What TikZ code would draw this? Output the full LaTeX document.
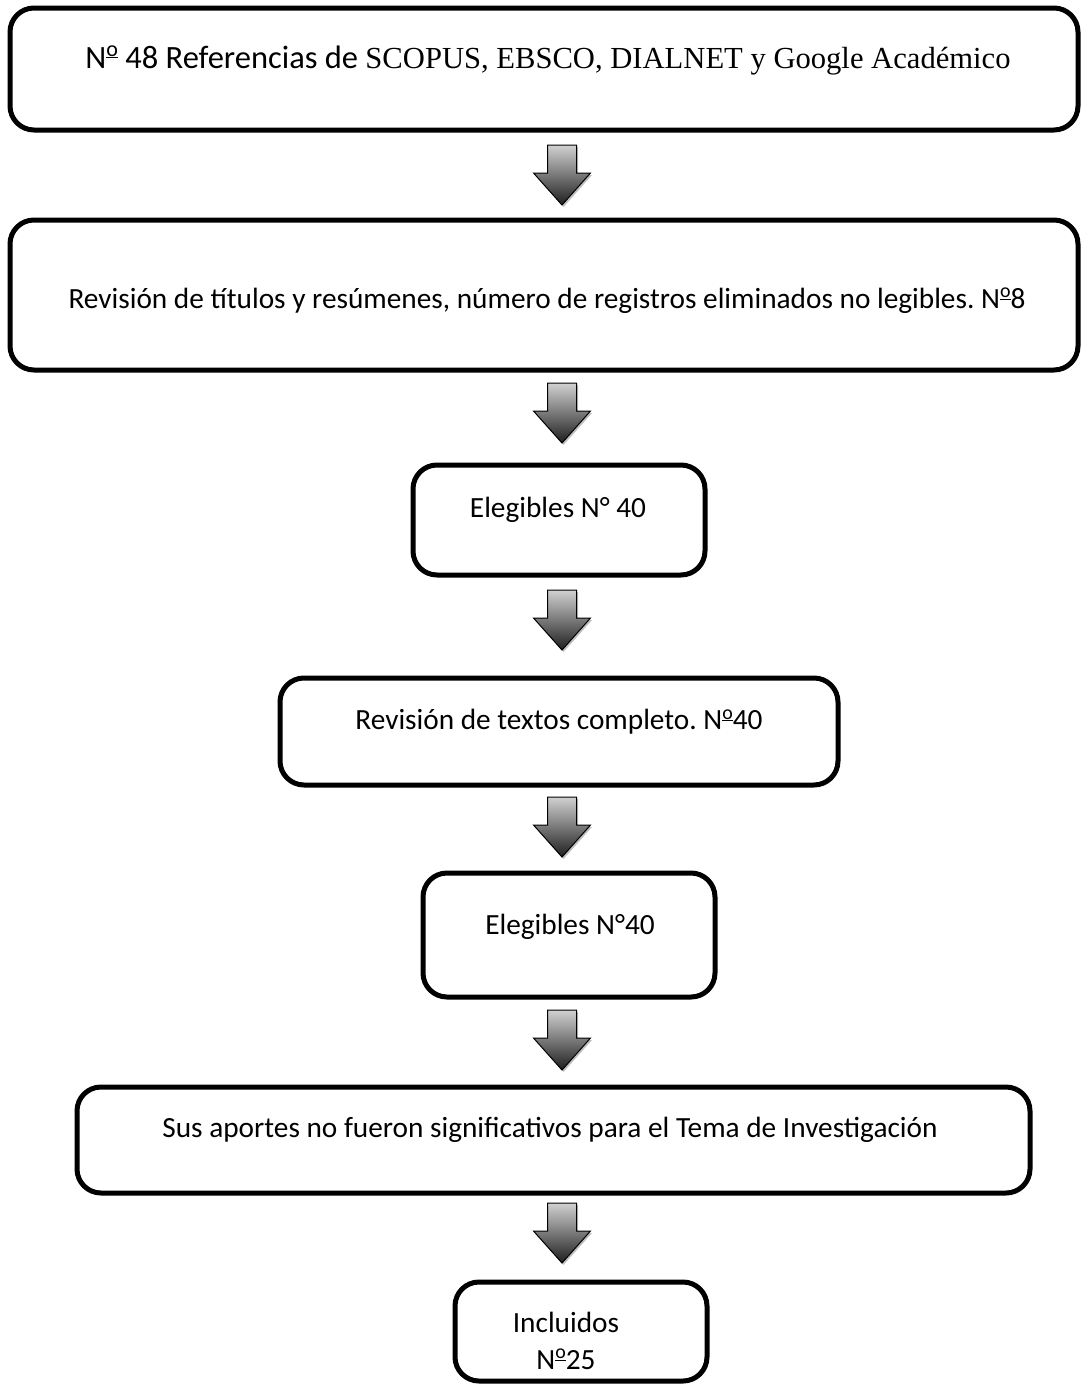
\documentclass[tikz,border=0pt]{standalone}
\usepackage{fontspec}
\setmainfont{Carlito}
\newfontfamily\timesf{Liberation Serif}
\usetikzlibrary{shadows}
\frenchspacing
\newcommand\ordmasc{\raisebox{0.78ex}{\scalebox{0.68}{\underline{o}}}}
\tikzset{
  box/.style={draw=black, line width=5pt, rounded corners=24pt, fill=white, inner sep=0pt},
  lbl/.style={font=\fontsize{29.3}{37}\selectfont, inner sep=0pt, align=center},
  blockarr/.style={draw=black, line width=1pt, top color=black!18, bottom color=black!88,
    drop shadow={opacity=0.25, shadow xshift=1.5pt, shadow yshift=-2pt, fill=black}}
}
\newcommand\downblockat[1]{\path[blockarr] ([shift={(-14.5,0)}]#1) -- ++(29,0) -- ++(0,28) -- ++(14,0) -- ++(-28.5,32) -- ++(-28.5,-32) -- ++(14,0) -- cycle;}
\begin{document}
\begin{tikzpicture}[x=1pt,y=-1pt]
\useasboundingbox[fill=white] (0,0) rectangle (1080,1387);
\node[box, minimum width=1068pt, minimum height=122pt] (b1) at (544,69) {};
\node[box, minimum width=1068pt, minimum height=150pt] (b2) at (544,295) {};
\node[box, minimum width=292pt, minimum height=110pt] (b3) at (559,520) {};
\node[box, minimum width=558pt, minimum height=107pt] (b4) at (559,731.5) {};
\node[box, minimum width=292pt, minimum height=124pt] (b5) at (569,935) {};
\node[box, minimum width=953pt, minimum height=106pt] (b6) at (553.5,1140) {};
\node[box, minimum width=252pt, minimum height=99pt] (b7) at (581,1331.5) {};
\node[lbl, font=\fontsize{32.5}{37}\selectfont] (t1) at (548,60) {N\ordmasc\ 48 Referencias de {\timesf\fontsize{30.6}{37}\selectfont SCOPUS, EBSCO, DIALNET y Google Académico}};
\node[lbl] (t2) at (547,301) {Revisión de títulos y resúmenes, número de registros eliminados no legibles. N\ordmasc8};
\node[lbl] (t3) at (558,510) {Elegibles N° 40};
\node[lbl] (t4) at (559,722) {Revisión de textos completo. N\ordmasc40};
\node[lbl] (t5) at (570,927) {Elegibles N°40};
\node[lbl] (t6) at (550,1130) {Sus aportes no fueron significativos para el Tema de Investigación};
\node[lbl] (t7) at (566,1341) {Incluidos\\N\ordmasc25};
\coordinate (a1) at (562,145);
\coordinate (a2) at (562,383);
\coordinate (a3) at (562,590);
\coordinate (a4) at (562,797);
\coordinate (a5) at (562,1010);
\coordinate (a6) at (562,1203);
\downblockat{a1}
\downblockat{a2}
\downblockat{a3}
\downblockat{a4}
\downblockat{a5}
\downblockat{a6}
\end{tikzpicture}
\end{document}
